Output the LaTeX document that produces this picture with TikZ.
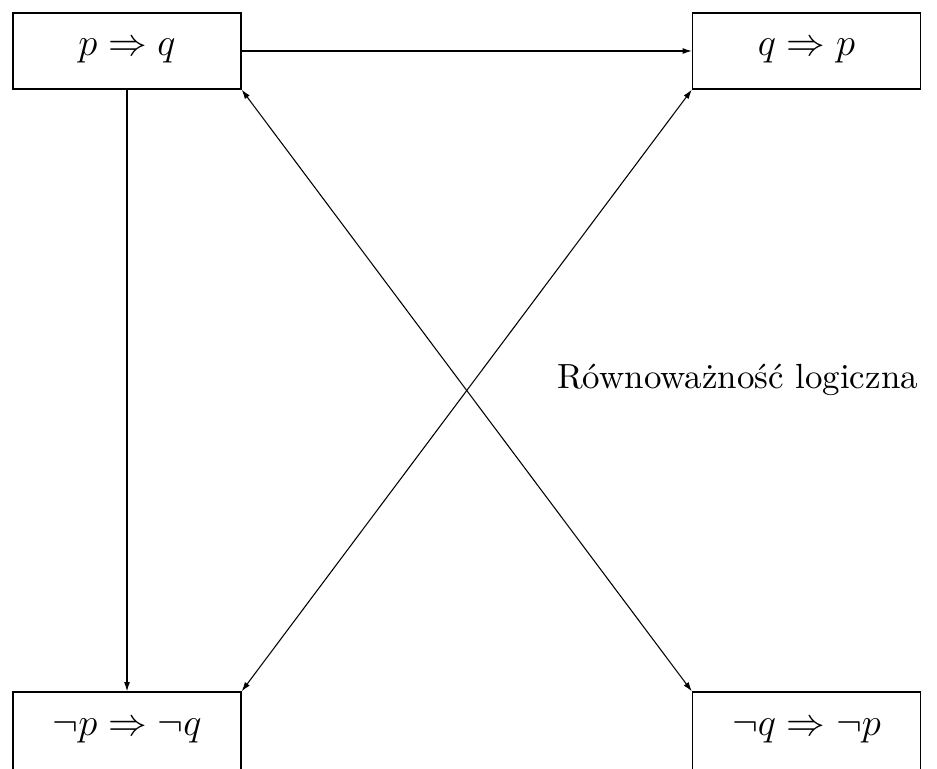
\RequirePackage{fix-cm}
\documentclass[tikz,border=0pt]{standalone}
\usepackage{fontspec}
\newfontfamily\lmten{lmroman10-regular}[Extension=.otf]
\usetikzlibrary{arrows.meta}
\begin{document}
\begin{tikzpicture}[x=0.75pt,y=-0.75pt,
  box/.style={draw, line width=1pt, minimum width=171pt, minimum height=57pt, inner sep=0pt, font=\fontsize{29}{34}\selectfont},
  lowbox/.style={box, minimum height=58.5pt},
  conn/.style={line width=0.8pt, -{Latex[length=7pt,width=4.5pt]}},
  biconn/.style={line width=0.8pt, {Latex[length=7pt,width=4.5pt]}-{Latex[length=7pt,width=4.5pt]}},
  lbl/.style={inner sep=0pt, font=\fontsize{26.2}{30}\lmten}]
\useasboundingbox (0,0) rectangle (937,768);
\clip (0,0) rectangle (937,768);
\node[box] (pq) at (127,51) {$p \Rightarrow q$};
\node[box] (qp) at (806.5,51) {$q \Rightarrow p$};
\node[lowbox] (npnq) at (127,731) {$\neg p \Rightarrow \neg q$};
\node[lowbox] (nqnp) at (806.5,731) {$\neg q \Rightarrow \neg p$};
\draw[conn] (pq.east) -- (qp.west);
\draw[conn] (pq.south) -- (npnq.north);
\draw[biconn] (pq.south east) -- (nqnp.north west);
\draw[biconn] (npnq.north east) -- (qp.south west);
\node[lbl, anchor=base west] (eq) at (557,388) {Równoważność logiczna};
\end{tikzpicture}
\end{document}
